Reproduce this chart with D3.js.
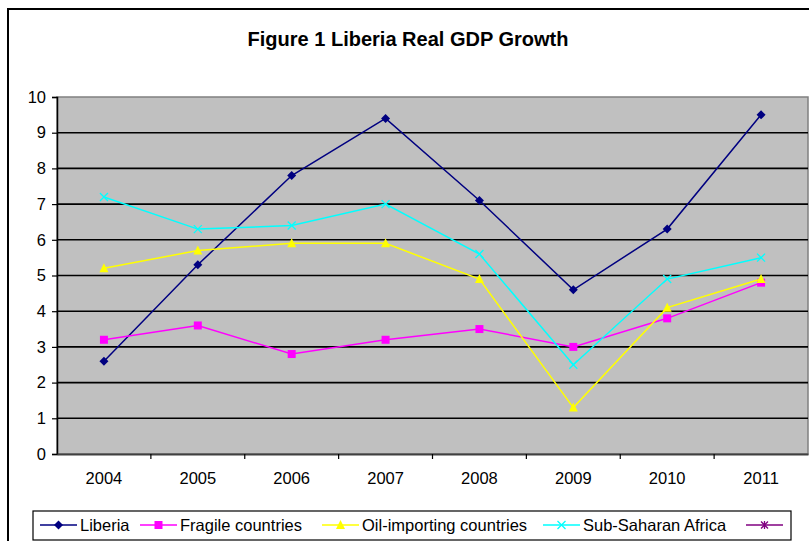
<!DOCTYPE html>
<html>
<head>
<meta charset="utf-8">
<script src="https://cdn.jsdelivr.net/npm/d3@7"></script>
<style>
  body { margin: 0; background: #fff; }
  svg { display: block; font-family: "Liberation Sans", Arial, sans-serif; }
  .grid line { stroke: #000; stroke-width: 1.6; }
  .tick-label { font-size: 16.5px; fill: #000; }
</style>
</head>
<body>
<div id="chart"></div>
<script>
var years = ['2004', '2005', '2006', '2007', '2008', '2009', '2010', '2011']
var liberia = [2.6, 5.3, 7.8, 9.4, 7.1, 4.6, 6.3, 9.5]
var fragile = [3.2, 3.6, 2.8, 3.2, 3.5, 3.0, 3.8, 4.8]
var oilImporting = [5.2, 5.7, 5.9, 5.9, 4.9, 1.3, 4.1, 4.9]
var subSaharan = [7.2, 6.3, 6.4, 7.0, 5.6, 2.5, 4.9, 5.5]
var fifth = []
var yTicks = [0, 1, 2, 3, 4, 5, 6, 7, 8, 9, 10]

var width = 809
  , height = 541
  , plot = { left: 57, right: 808, top: 97, bottom: 454 }

var series = [
  { name: 'Liberia', values: liberia, color: '#000080', marker: 'diamond' },
  { name: 'Fragile countries', values: fragile, color: '#FF00FF', marker: 'square' },
  { name: 'Oil-importing countries', values: oilImporting, color: '#FFFF00', marker: 'triangle' },
  { name: 'Sub-Saharan Africa', values: subSaharan, color: '#00FFFF', marker: 'cross' },
  { name: '', values: fifth, color: '#800080', marker: 'star' }
]

var svg = d3.select('#chart').append('svg')
  .attr('width', width)
  .attr('height', height)

// outer chart frame
svg.append('rect')
  .attr('x', 8).attr('y', 9)
  .attr('width', 900).attr('height', 600)
  .attr('fill', '#fff')
  .attr('stroke', '#000')
  .attr('stroke-width', 2)

svg.append('text')
  .attr('x', 408).attr('y', 46)
  .attr('text-anchor', 'middle')
  .attr('font-size', 20)
  .attr('font-weight', 'bold')
  .text('Figure 1 Liberia Real GDP Growth')

var x = d3.scaleBand().domain(years).range([plot.left, plot.right]).padding(0)
  , y = d3.scaleLinear().domain([0, 10]).range([plot.bottom, plot.top])

svg.append('rect')
  .attr('x', plot.left).attr('y', plot.top)
  .attr('width', plot.right - plot.left)
  .attr('height', plot.bottom - plot.top)
  .attr('fill', '#C0C0C0')
  .attr('stroke', '#808080')
  .attr('stroke-width', 1.5)

// gridlines
svg.append('g').attr('class', 'grid')
  .selectAll('line')
  .data(yTicks.filter(function(d) { return d > 0 && d < 10 }))
  .join('line')
    .attr('x1', plot.left).attr('x2', plot.right)
    .attr('y1', function(d) { return y(d) }).attr('y2', function(d) { return y(d) })

// y axis
var yAxis = svg.append('g')
  .attr('transform', 'translate(' + plot.left + ',0)')
  .call(d3.axisLeft(y).tickValues(yTicks).tickSize(5).tickPadding(6).tickFormat(d3.format('d')))
yAxis.select('.domain').attr('stroke', '#000').attr('stroke-width', 1.5)
yAxis.selectAll('.tick line').attr('stroke', '#000').attr('stroke-width', 1.2)
yAxis.selectAll('.tick text').attr('class', 'tick-label').attr('font-family', null).attr('font-size', null)

// x axis: ticks sit on category boundaries
var xAxis = svg.append('g')
  .attr('transform', 'translate(0,' + plot.bottom + ')')
  .call(d3.axisBottom(x).tickSize(0).tickPadding(18))
xAxis.select('.domain').attr('stroke', '#404040').attr('stroke-width', 2)
xAxis.selectAll('.tick text').attr('class', 'tick-label').attr('font-family', null).attr('font-size', null)
xAxis.selectAll('.bound')
  .data(years.slice(1))
  .join('line')
    .attr('x1', function(d) { return x(d) }).attr('x2', function(d) { return x(d) })
    .attr('y1', 0).attr('y2', 5)
    .attr('stroke', '#000').attr('stroke-width', 1.2)

var cx = function(i) { return x(years[i]) + x.bandwidth() / 2 }

function drawMarker(g, type, color) {
  if (type === 'diamond')
    g.append('path').attr('d', 'M0,-4.5L4.5,0L0,4.5L-4.5,0Z').attr('fill', color)
  else if (type === 'square')
    g.append('rect').attr('x', -4).attr('y', -4).attr('width', 8).attr('height', 8).attr('fill', color)
  else if (type === 'triangle')
    g.append('path').attr('d', 'M0,-5L4.5,4L-4.5,4Z').attr('fill', color)
  else if (type === 'cross')
    g.append('path').attr('d', 'M-4,-4L4,4M4,-4L-4,4').attr('stroke', color).attr('stroke-width', 1.3)
  else if (type === 'star')
    g.append('path').attr('d', 'M-3.5,-3.5L3.5,3.5M3.5,-3.5L-3.5,3.5M0,-4L0,4').attr('stroke', color).attr('stroke-width', 1.3)
}

var line = d3.line()
  .x(function(d, i) { return cx(i) })
  .y(function(d) { return y(d) })

series.forEach(function(s) {
  if (!s.values.length) return
  var g = svg.append('g')
  g.append('path')
    .attr('d', line(s.values))
    .attr('fill', 'none')
    .attr('stroke', s.color)
    .attr('stroke-width', 1.5)
  s.values.forEach(function(v, i) {
    drawMarker(g.append('g').attr('transform', 'translate(' + cx(i) + ',' + y(v) + ')'), s.marker, s.color)
  })
})

// legend
var legend = svg.append('g')
legend.append('rect')
  .attr('x', 33).attr('y', 511)
  .attr('width', 758).attr('height', 29)
  .attr('fill', '#fff')
  .attr('stroke', '#000')
  .attr('stroke-width', 1.2)

var legendX = [40, 140, 322, 543, 746]
series.forEach(function(s, i) {
  var lx = legendX[i]
    , item = legend.append('g').attr('transform', 'translate(' + lx + ',525)')
  item.append('line')
    .attr('x1', 0).attr('x2', 37)
    .attr('stroke', s.color).attr('stroke-width', 1.5)
  drawMarker(item.append('g').attr('transform', 'translate(18.5,0)'), s.marker, s.color)
  item.append('text')
    .attr('x', 40).attr('y', 6)
    .attr('font-size', 16.5)
    .text(s.name)
})
</script>
</body>
</html>
